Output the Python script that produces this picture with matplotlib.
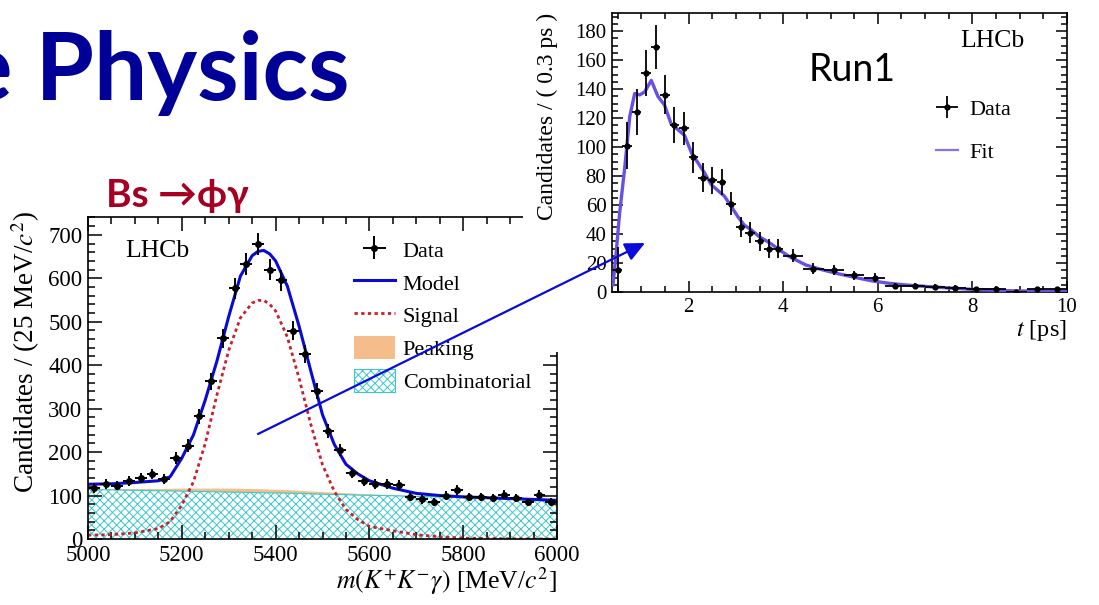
import matplotlib
matplotlib.use("Agg")
import matplotlib.pyplot as plt
from matplotlib.ticker import MultipleLocator
from matplotlib.lines import Line2D
from matplotlib.patches import Patch, Rectangle, FancyArrowPatch
import numpy as np

# ---------------- data: left panel (mass fit) ----------------
mass_centers = [5012.5 + 25 * i for i in range(40)]
mass_counts = [117, 127, 123, 133, 140, 150, 138, 186, 215, 282, 363, 462, 577, 633, 679, 620, 595, 479, 426, 340,
               249, 205, 152, 133, 127, 126, 125, 97, 91, 86, 100, 113, 97, 97, 95, 102, 95, 84, 102, 86]
mass_errors = [10.8, 11.3, 11.1, 11.5, 11.8, 12.2, 11.7, 13.6, 14.7, 16.8, 19.1, 21.5, 24.0, 25.2, 26.1, 24.9, 24.4,
               21.9, 20.6, 18.4, 15.8, 14.3, 12.3, 11.5, 11.3, 11.2, 11.2, 9.8, 9.5, 9.3, 10.0, 10.6, 9.8, 9.8, 9.7,
               10.1, 9.7, 9.2, 10.1, 9.3]
mass_halfbin = 12.5

curve_mass = [5000, 5050, 5100, 5150, 5175, 5200, 5225, 5250, 5275, 5300, 5325, 5350, 5362.5, 5375, 5387.5, 5400,
              5425, 5450, 5475, 5500, 5525, 5550, 5575, 5600, 5650, 5700, 5750, 5800, 5900, 6000]
model_y = [126, 127, 130, 134, 143, 186, 240, 320, 410, 512, 605, 652, 662, 664, 656, 640, 582, 490, 387, 286,
           218, 172, 150, 134, 117, 105, 100, 97, 93, 89]
signal_y = [9, 10, 14, 24, 40, 78, 132, 220, 332, 434, 509, 543, 549, 549, 540, 525, 465, 370, 264, 171,
            110, 68, 45, 29, 19, 10, 5, 2, 0.5, 0]
comb_y = [114, 113, 112, 111, 110.5, 110, 109.5, 109, 108.5, 108, 107.5, 107, 106.7, 106.4, 106.1, 106, 105.5,
          105, 104, 103, 102.5, 102, 101, 100.5, 99.5, 98, 97, 95, 92, 88]
peak_y = [1, 2, 3, 4, 5, 6, 6.5, 7, 7.5, 8, 8, 8, 8, 8, 7.5, 7.5, 7, 6, 5.5, 5, 4, 3.5, 3, 2.5, 1.5,
          1, 0.5, 0.3, 0, 0]

# ---------------- data: right panel (decay time) ----------------
t_centers = [0.5, 0.7, 0.9, 1.1, 1.3, 1.5, 1.7, 1.9, 2.1, 2.3, 2.5, 2.7, 2.9, 3.1, 3.3, 3.5, 3.7, 3.9,
             4.21, 4.64, 5.07, 5.5, 5.93, 6.36, 6.79, 7.21, 7.64, 8.07, 8.5, 8.93, 9.36, 9.79]
t_halfwidth = [0.1] * 18 + [0.214] * 14
t_counts = [15, 101, 124, 151, 169, 136, 115, 113, 93, 79, 77, 76, 61, 45, 41, 35, 30, 30,
            25, 16, 15, 11.5, 10, 4.2, 4.1, 3.7, 3.0, 2.3, 1.8, 0.3, 2.3, 2.3]
t_errors = [16, 16, 16, 16, 15, 13.5, 12.5, 11.5, 10.7, 10, 9.5, 9, 8, 7, 7, 6.5, 6.5, 6.5,
            4.5, 3.7, 3.5, 3, 3, 2, 1.8, 1.6, 1.5, 1.3, 1.2, 0.8, 1.2, 1.2]

fit_t = [0.40, 0.46, 0.54, 0.65, 0.755, 0.86, 0.965, 1.07, 1.21, 1.35, 1.49, 1.63, 1.775, 1.915, 2.06, 2.2, 2.34,
         2.48, 2.62, 2.76, 2.9, 3.04, 3.18, 3.32, 3.5, 3.71, 3.92, 4.13, 4.48, 4.84, 5.19, 5.54, 5.89, 6.24, 6.6,
         7.3, 8.0, 8.7, 9.4, 10.0]
fit_y = [5, 24, 54, 86, 121, 137, 136, 138, 146, 135, 129, 116, 112, 108, 96, 89, 82, 74, 70, 66, 59, 52, 46,
         43, 38, 34, 29, 24.4, 18.6, 15.2, 12.4, 9.9, 7.6, 6.0, 4.8, 3.2, 1.8, 0.9, 0.5, 0.3]

# ---------------- style ----------------
plt.rcParams['font.family'] = ['Liberation Serif', 'DejaVu Serif']
plt.rcParams['mathtext.fontset'] = 'stix'
plt.rcParams['hatch.linewidth'] = 0.7

W, H = 1099, 605
fig = plt.figure(figsize=(W / 100, H / 100), dpi=100)


def frac_box(l, t, r, b):
    return [l / W, 1 - b / H, (r - l) / W, (b - t) / H]


def style_axes(ax, fs, majlen, minlen):
    ax.tick_params(which='both', direction='in', top=True, right=True, labelsize=fs, pad=4, width=1.1)
    ax.tick_params(which='major', length=majlen)
    ax.tick_params(which='minor', length=minlen)
    for s in ax.spines.values():
        s.set_linewidth(1.2)


# ---------------- left panel ----------------
axL = fig.add_axes(frac_box(88, 217, 557, 539), zorder=0)
comb_top = np.array(comb_y)
axL.fill_between(curve_mass, 0, comb_top, facecolor='white', edgecolor='#3cc8c8', hatch='xxxx', linewidth=0)
axL.plot(curve_mass, comb_top, color='#3cc8c8', lw=0.8)
axL.fill_between(curve_mass, comb_top, comb_top + np.array(peak_y), facecolor='#f6bd8c', edgecolor='none')
axL.plot(curve_mass, signal_y, color='#c8202c', lw=2.0, ls=(0, (1.2, 1.2)))
axL.plot(curve_mass, model_y, color='#0a0ad2', lw=2.2)
ebL = axL.errorbar(mass_centers, mass_counts, xerr=mass_halfbin, yerr=mass_errors, fmt='o', color='black',
                   ms=4, elinewidth=1.4, capsize=0, zorder=5)
axL.set_xlim(5000, 6000)
axL.set_ylim(0, 741)
axL.xaxis.set_major_locator(MultipleLocator(200))
axL.xaxis.set_minor_locator(MultipleLocator(50))
axL.yaxis.set_major_locator(MultipleLocator(100))
axL.yaxis.set_minor_locator(MultipleLocator(20))
style_axes(axL, 16.5, 10, 5)
axL.set_ylabel(r'Candidates / (25 MeV/$c^{2}$)', fontsize=19.5)
axL.yaxis.set_label_coords(-0.098, 0.58)
axL.set_xlabel(r'$m(K^{+}K^{-}\gamma)$ [MeV/$c^{2}$]', fontsize=18.5, ha='right')
axL.xaxis.set_label_coords(1.0, -0.082)
axL.text(0.079, 0.893, 'LHCb', transform=axL.transAxes, fontsize=18.5, va='center', ha='left')

hL = [
    ebL,
    Line2D([0], [0], color='#0a0ad2', lw=2.2),
    Line2D([0], [0], color='#c8202c', lw=2.0, ls=(0, (1.2, 1.2))),
    Patch(facecolor='#f6bd8c', edgecolor='none'),
    Patch(facecolor='white', edgecolor='#3cc8c8', hatch='xxxx', linewidth=0.8),
]
legL = axL.legend(hL, ['Data', 'Model', 'Signal', 'Peaking', 'Combinatorial'], loc='upper left',
                  bbox_to_anchor=(0.567, 0.935), frameon=False, fontsize=16, borderpad=0, borderaxespad=0,
                  handlelength=1.85, handleheight=1.25, labelspacing=0.38, handletextpad=0.35)

# white cover (the right picture pasted over the left one)
fig.add_artist(Rectangle((523 / W, 1 - 352 / H), 1 - 523 / W, 352 / H, transform=fig.transFigure,
                         facecolor='white', edgecolor='none', zorder=0.5))

# ---------------- right panel ----------------
axR = fig.add_axes(frac_box(612, 13, 1067, 292), zorder=1)
axR.plot(fit_t, fit_y, color='#6a4fe4', lw=2.4, zorder=3)
ebR = axR.errorbar(t_centers, t_counts, xerr=t_halfwidth, yerr=t_errors, fmt='o', color='black', ms=3.5,
                   elinewidth=1.3, capsize=0, zorder=5)
axR.set_xlim(0.38, 10)
axR.set_ylim(0, 192.5)
axR.xaxis.set_major_locator(MultipleLocator(2))
axR.xaxis.set_minor_locator(MultipleLocator(0.5))
axR.yaxis.set_major_locator(MultipleLocator(20))
axR.yaxis.set_minor_locator(MultipleLocator(5))
style_axes(axR, 15, 8, 4)
axR.set_ylabel('Candidates / ( 0.3 ps )', fontsize=17)
axR.yaxis.set_label_coords(-0.119, 0.63)
axR.set_xlabel(r'$t$ [ps]', fontsize=17.5, ha='right')
axR.xaxis.set_label_coords(1.0, -0.093)
axR.text(0.765, 0.90, 'LHCb', transform=axR.transAxes, fontsize=18.5, va='center', ha='left')

hR = [ebR, Line2D([0], [0], color='#8a74ea', lw=1.6)]
axR.legend(hR, ['Data', 'Fit'], loc='upper left', bbox_to_anchor=(0.712, 0.69), frameon=False, fontsize=16,
           borderpad=0, borderaxespad=0, handlelength=1.0, labelspacing=1.0, handletextpad=0.5)

fig.text(852 / W, 1 - 70 / H, 'Run1', family=['Lato', 'DejaVu Sans'], fontsize=27, color='black',
         ha='center', va='center', zorder=4)

# ---------------- slide annotations ----------------
fig.text(350 / W, 1 - 100 / H, 'e Physics', family=['Lato', 'DejaVu Sans'], fontweight='bold', fontsize=68,
         color='#000099', ha='right', va='baseline', zorder=4)
fig.text(106 / W, 1 - 207 / H, 'Bs \u2192\u03d5\u03b3', family=['Lato', 'DejaVu Sans'], fontweight='bold',
         fontsize=28, color='#a50021', ha='left', va='baseline', zorder=4)

arrow = FancyArrowPatch((258 / W, 1 - 434 / H), (645 / W, 1 - 243 / H), transform=fig.transFigure,
                        arrowstyle='-|>,head_length=0.8,head_width=0.38', mutation_scale=15,
                        color='#0a0adc', lw=1.6, shrinkA=0, shrinkB=0, zorder=6)
fig.add_artist(arrow)

fig.savefig('out.png', dpi=100)
